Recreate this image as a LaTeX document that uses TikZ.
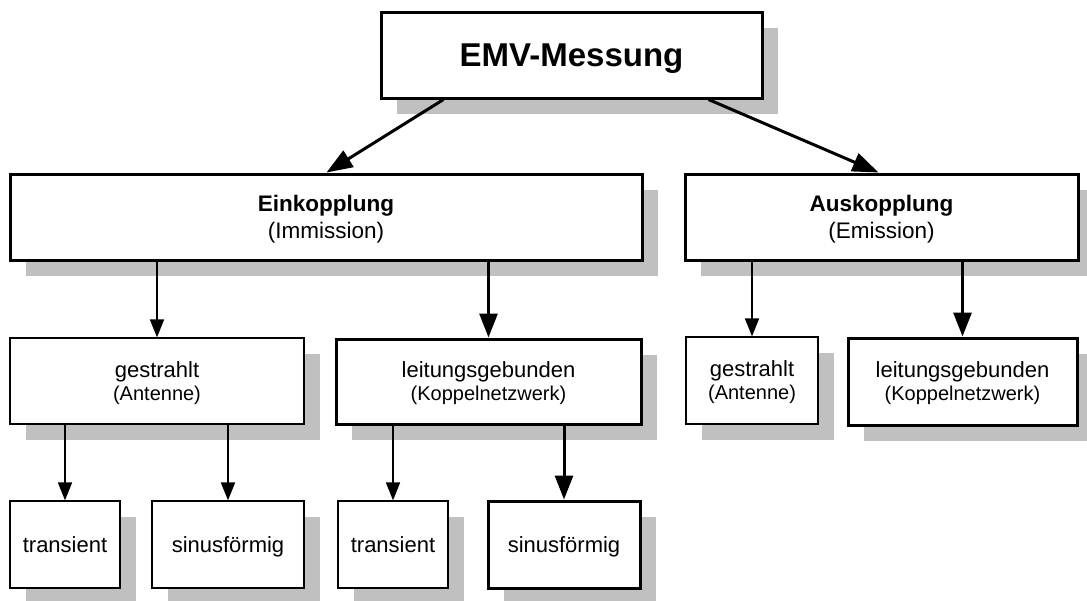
\documentclass[tikz,border=0pt]{standalone}
\usepackage{fontspec}
\setmainfont{Liberation Sans}
\usetikzlibrary{arrows.meta,shadows}
\definecolor{shadowgray}{RGB}{192,192,192}
\tikzset{
  box/.style={rectangle, draw=black, fill=white, inner sep=0pt, text depth=0pt, align=center,
    drop shadow={shadow xshift=16pt, shadow yshift=-16pt, fill=shadowgray, opacity=1}},
  thickbox/.style={box, line width=3pt},
  thinbox/.style={box, line width=1.2pt},
  lvlone/.style={font=\fontsize{22.5}{27}\selectfont},
  lvltwo/.style={font=\fontsize{22}{23}\selectfont},
  lvlthree/.style={font=\fontsize{22}{26}\selectfont},
  thinarrow/.style={line width=1.5pt, -{Triangle[length=18pt,width=14pt]}},
  thickarrow/.style={line width=3pt, -{Triangle[length=24pt,width=18pt]}},
  diagarrow/.style={line width=3pt, -{Triangle[length=26pt,width=19pt]}}
}
\newcommand{\sublabel}[1]{{\fontsize{20}{23}\selectfont #1}}
\begin{document}
\begin{tikzpicture}[x=1pt,y=-1pt]
\useasboundingbox (0,0) rectangle (1087,600);
% level 0
\node[thickbox, minimum width=381pt, minimum height=86pt, font=\fontsize{33}{40}\selectfont\bfseries] (top) at (571.5,55) {EMV-Messung};
% level 1
\node[thickbox, lvlone, minimum width=632pt, minimum height=86pt] (ein) at (326,217) {\textbf{Einkopplung}\\(Immission)};
\node[thickbox, lvlone, minimum width=393pt, minimum height=86pt] (aus) at (881.5,217) {\textbf{Auskopplung}\\(Emission)};
% level 2
\node[thinbox, lvltwo, minimum width=294pt, minimum height=86pt] (gl) at (157,381) {gestrahlt\\\sublabel{(Antenne)}};
\node[thickbox, lvltwo, minimum width=305pt, minimum height=85pt] (ll) at (488.5,381.5) {leitungsgebunden\\\sublabel{(Koppelnetzwerk)}};
\node[thinbox, lvltwo, minimum width=132pt, minimum height=87pt] (gr) at (752,380.5) {gestrahlt\\\sublabel{(Antenne)}};
\node[thickbox, lvltwo, minimum width=229pt, minimum height=87pt] (lr) at (962.5,381.5) {leitungsgebunden\\\sublabel{(Koppelnetzwerk)}};
% level 3
\node[thinbox, lvlthree, minimum width=110pt, minimum height=87pt] (t1) at (65,544.5) {transient};
\node[thinbox, lvlthree, minimum width=152pt, minimum height=87pt] (s1) at (228,544.5) {sinusförmig};
\node[thinbox, lvlthree, minimum width=110pt, minimum height=87pt] (t2) at (393,544.5) {transient};
\node[thickbox, lvlthree, minimum width=152pt, minimum height=87pt] (s2) at (564,544.5) {sinusförmig};
% connectors
\draw[diagarrow] ([xshift=64pt]top.south west) -- ([xshift=318pt]ein.north west);
\draw[diagarrow] ([xshift=-55pt]top.south east) -- ([xshift=195pt]aus.north west);
\draw[thinarrow] (ein.south -| gl.north) -- (gl.north);
\draw[thickarrow] (ein.south -| ll.north) -- (ll.north);
\draw[thinarrow] (aus.south -| gr.north) -- (gr.north);
\draw[thickarrow] (aus.south -| lr.north) -- (lr.north);
\draw[thinarrow] (gl.south -| t1.north) -- (t1.north);
\draw[thinarrow] (gl.south -| s1.north) -- (s1.north);
\draw[thinarrow] (ll.south -| t2.north) -- (t2.north);
\draw[thickarrow] (ll.south -| s2.north) -- (s2.north);
\end{tikzpicture}
\end{document}
